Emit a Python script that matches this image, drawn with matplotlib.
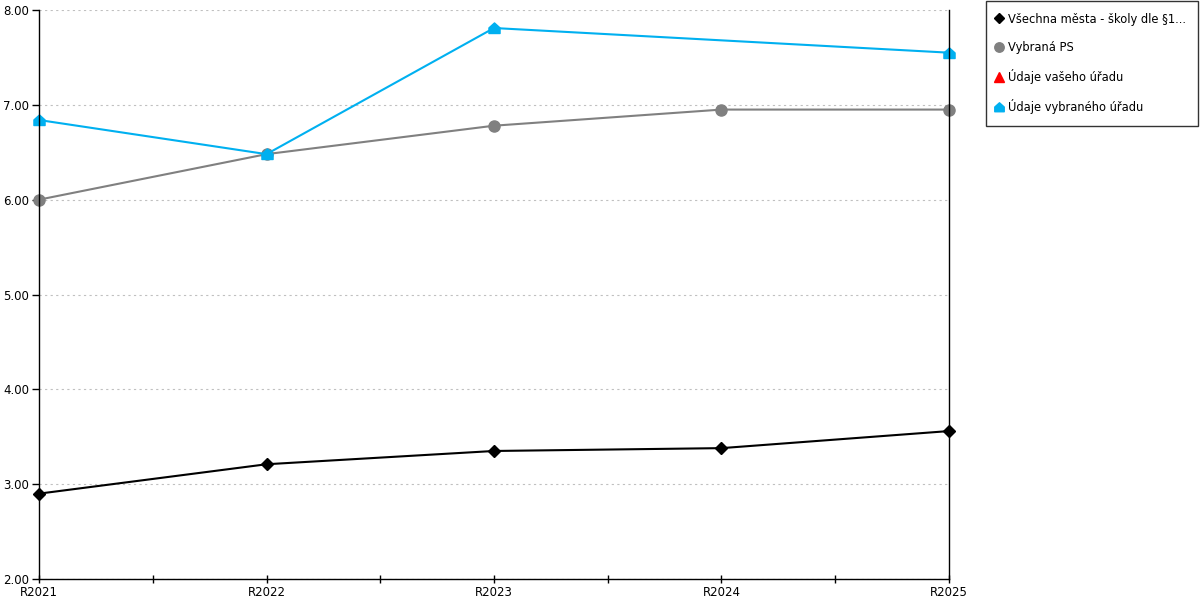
import numpy as np
import matplotlib.pyplot as plt
from matplotlib.path import Path
from matplotlib.ticker import FixedLocator, FormatStrFormatter

years = ['R2021', 'R2022', 'R2023', 'R2024', 'R2025']
vsechna_mesta = [2.90, 3.21, 3.35, 3.38, 3.56]
vybrana_ps = [6.00, 6.48, 6.78, 6.95, 6.95]
vaseho_uradu = [np.nan, np.nan, np.nan, np.nan, np.nan]
vybraneho_uradu = [6.84, 6.48, 7.81, np.nan, 7.55]

labels = ['Všechna města - školy dle §1...', 'Vybraná PS',
          'Údaje vašeho úřadu', 'Údaje vybraného úřadu']

plt.rcParams['font.family'] = ['DejaVu Sans']

house = Path([(-1, -0.9), (1, -0.9), (1, 0.1), (0, 1), (-1, 0.1), (-1, -0.9)],
             [Path.MOVETO, Path.LINETO, Path.LINETO, Path.LINETO, Path.LINETO, Path.CLOSEPOLY])

fig = plt.figure(figsize=(12, 6), dpi=100)
ax = fig.add_axes([39/1200, 21/600, 910/1200, 569/600])

x = np.arange(len(years))

ax.plot(x, vsechna_mesta, color='black', lw=1.5, marker='D', ms=6, label=labels[0])
ax.plot(x, vybrana_ps, color='#808080', lw=1.5, marker='o', ms=8, label=labels[1])
ax.plot(x, vaseho_uradu, color='#ff0000', lw=1.5, marker='^', ms=8, label=labels[2])
# missing R2024 value: the blue line runs straight from R2023 to R2025
bx = [i for i, v in enumerate(vybraneho_uradu) if not np.isnan(v)]
by = [v for v in vybraneho_uradu if not np.isnan(v)]
ax.plot(bx, by, color='#00b0f0', lw=1.5, marker=house, ms=8, label=labels[3])

ax.set_xlim(0, 4)
ax.set_ylim(2, 8)
ax.set_xticks(x)
ax.set_xticklabels(years, fontsize=8.5)
ax.xaxis.set_minor_locator(FixedLocator(x[:-1] + 0.5))
ax.tick_params(axis='x', which='both', direction='inout', length=6, width=1, pad=2)
ax.set_yticks(np.arange(2, 8.01, 1))
ax.yaxis.set_major_formatter(FormatStrFormatter('%.2f'))
ax.tick_params(axis='y', direction='out', length=5, width=1, labelsize=8.5, pad=2)
ax.yaxis.grid(True, color='#c0c0c0', linestyle=(0, (2, 3)), lw=0.8)
ax.set_axisbelow(True)

ax.spines['top'].set_visible(False)
for s in ['left', 'bottom', 'right']:
    ax.spines[s].set_color('black')
    ax.spines[s].set_linewidth(1)

for line in ax.lines:
    line.set_clip_on(False)

leg = fig.legend(loc='upper left', bbox_to_anchor=(986/1200, 1 - 1/600),
                 fontsize=8.3, frameon=True, fancybox=False, handlelength=0.2,
                 handletextpad=0.72, labelspacing=1.32, borderpad=1.0,
                 borderaxespad=0, markerscale=0.85)
leg.get_frame().set_edgecolor('black')
leg.get_frame().set_linewidth(1)
for h in leg.legend_handles:
    h.set_linestyle('none')

plt.savefig('out.png', dpi=100)
